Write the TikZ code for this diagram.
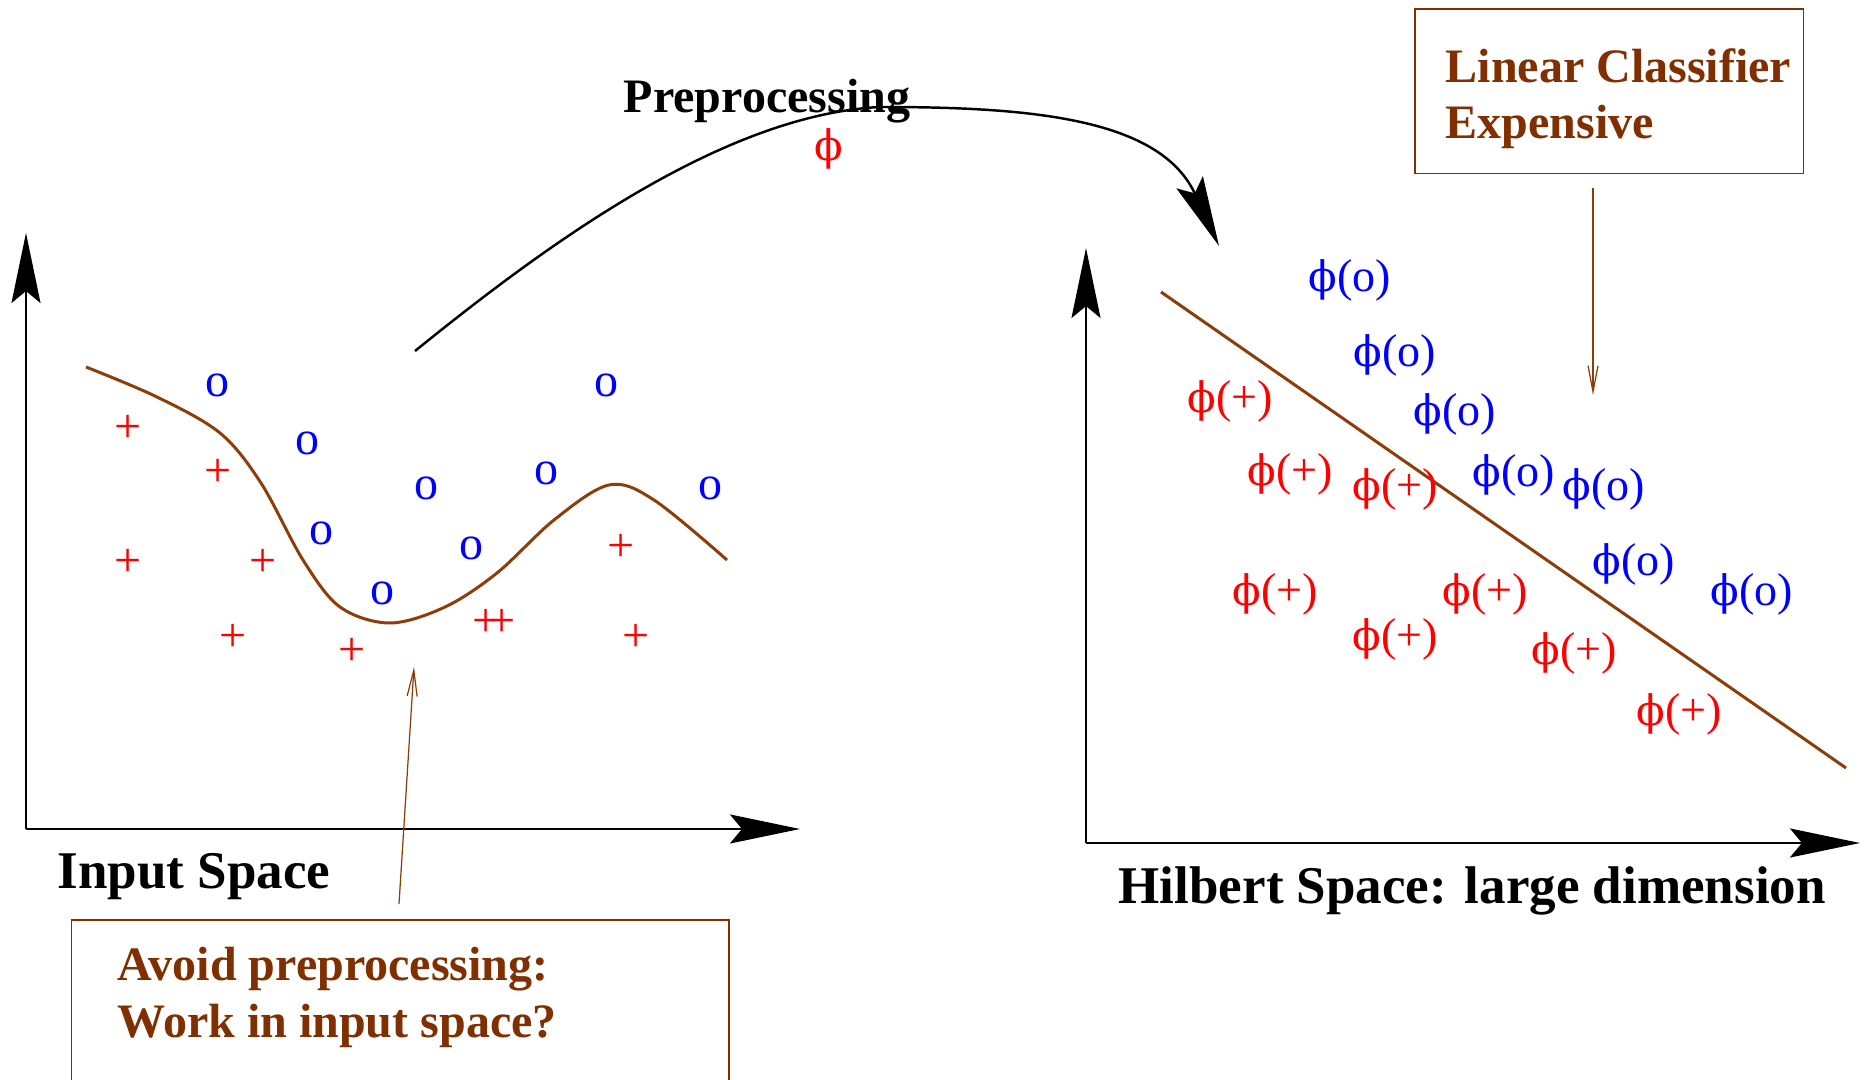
\documentclass[tikz,border=0pt]{standalone}
\usepackage{fontspec}
\setmainfont{Liberation Serif}
\newfontfamily\myphifont{DejaVu Serif}
\usetikzlibrary{arrows.meta}
\definecolor{brtext}{RGB}{128,48,0}
\definecolor{brline}{RGB}{140,62,8}
\newcommand\myfontBig{\fontsize{0.53cm}{0.6cm}\selectfont}
\newcommand\myfontMid{\fontsize{0.48cm}{0.56cm}\selectfont}
\newcommand\myfontSym{\fontsize{0.46cm}{0.52cm}\selectfont}
\newcommand\myphi{{\myphifont\fontsize{0.42cm}{0.5cm}\selectfont ϕ}}
\begin{document}
\begin{tikzpicture}[x=0.01cm,y=-0.01cm,
  axis/.style={line width=0.65pt,-{Stealth[length=0.7cm,width=0.29cm,inset=0.12cm]}},
  sep/.style={draw=brline,line width=0.85pt},
  thinarrow/.style={draw=brline,line width=0.35pt,-{Straight Barb[length=0.26cm,width=0.1cm]}},
  notebox/.style={draw=brtext,line width=0.45pt,inner sep=0pt,anchor=north west},
  lbl/.style={inner sep=0pt,anchor=base west},
  pt/.style={inner sep=0pt,anchor=center,font=\myfontMid},
  plus/.style={pt,text=red},
  circ/.style={pt,text=blue},
  phip/.style={inner sep=0pt,anchor=center,font=\myfontSym,text=red},
  phio/.style={inner sep=0pt,anchor=center,font=\myfontSym,text=blue}]
\useasboundingbox (0,0) rectangle (1864,1080);
\clip (0,0) rectangle (1864,1080);
\fill[white] (0,0) rectangle (1864,1080);

% ---------- left: input space ----------
\coordinate (lo) at (26,829);
\coordinate (ly) at (26,233);
\coordinate (lx) at (800,829);
\draw[axis] (lo) -- (ly);
\draw[axis] (lo) -- (lx);
\node[lbl,font=\myfontBig\bfseries] (inputlbl) at (57,888) {Input Space};

\draw[sep] plot[smooth,tension=0.55] coordinates {(86,367) (157,397) (220,433) (261,483) (303,560) (340,607) (390,623) (445,607) (497,573) (554,520) (609,485) (654,500) (727,560)};

\node[circ] (o1) at (218,385) {o};
\node[circ] (o2) at (308,443) {o};
\node[circ] (o3) at (426,488) {o};
\node[circ] (o4) at (546,473) {o};
\node[circ] (o5) at (606,385) {o};
\node[circ] (o6) at (710,488) {o};
\node[circ] (o7) at (322,533) {o};
\node[circ] (o8) at (471,548) {o};
\node[circ] (o9) at (382,593) {o};

\node[plus] (p1) at (128,429) {+};
\node[plus] (p2) at (218,473) {+};
\node[plus] (p3) at (128,563) {+};
\node[plus] (p4) at (263,563) {+};
\node[plus] (p5) at (621,548) {+};
\node[plus] (p6) at (233,638) {+};
\node[plus] (p7) at (352,652) {+};
\node[plus] (p8) at (486,623) {+};
\node[plus] (p9) at (502,623) {+};
\node[plus] (p10) at (636,638) {+};

% ---------- preprocessing arrow ----------
\coordinate (preA) at (415,351);
\coordinate (preM) at (880,107);
\coordinate (preB) at (1219,246);
\draw[line width=0.7pt,-{Stealth[length=0.7cm,width=0.29cm,inset=0.12cm]}]
  (preA) .. controls (540,250) and (720,115) .. (preM)
         .. controls (1030,107) and (1160,118) .. (preB);
\node[lbl,font=\myfontMid\bfseries] (prelbl) at (623,113) {Preprocessing};
\node[phip] (phimap) at (829,149) {\myphi};

% ---------- right: Hilbert space ----------
\coordinate (ro) at (1086,843);
\coordinate (ry) at (1086,248);
\coordinate (rx) at (1860,843);
\draw[axis] (ro) -- (ry);
\draw[axis] (ro) -- (rx);
\node[lbl,font=\myfontBig\bfseries] (hilblbl) at (1118,903) {Hilbert Space: large dimension};

\coordinate (sepA) at (1161,292);
\coordinate (sepB) at (1846,768);
\draw[sep] (sepA) -- (sepB);

\node[phio] (q1) at (1350,280) {\myphi(o)};
\node[phio] (q2) at (1395,355) {\myphi(o)};
\node[phio] (q3) at (1455,414) {\myphi(o)};
\node[phio] (q4) at (1514,475) {\myphi(o)};
\node[phio] (q5) at (1604,489) {\myphi(o)};
\node[phio] (q6) at (1634,564) {\myphi(o)};
\node[phio] (q7) at (1752,594) {\myphi(o)};

\node[phip] (r1) at (1230,401) {\myphi(+)};
\node[phip] (r2) at (1290,474) {\myphi(+)};
\node[phip] (r3) at (1395,489) {\myphi(+)};
\node[phip] (r4) at (1275,594) {\myphi(+)};
\node[phip] (r5) at (1485,594) {\myphi(+)};
\node[phip] (r6) at (1395,639) {\myphi(+)};
\node[phip] (r7) at (1574,653) {\myphi(+)};
\node[phip] (r8) at (1679,714) {\myphi(+)};

% ---------- note boxes ----------
\node[notebox,minimum width=3.884cm,minimum height=1.644cm] (lcbox) at (1414,8.3) {};
\node[lbl,font=\myfontMid\bfseries,text=brtext] (lc1) at (1445,83) {Linear Classifier};
\node[lbl,font=\myfontMid\bfseries,text=brtext] (lc2) at (1445,139) {Expensive};
\coordinate (lcTail) at (1593,188);
\coordinate (lcHead) at (1593,395);
\draw[thinarrow] (lcTail) -- (lcHead);

\node[notebox,minimum width=6.573cm,minimum height=2.2cm] (avbox) at (70.7,919) {};
\node[lbl,font=\myfontMid\bfseries,text=brtext] (av1) at (117,980) {Avoid preprocessing:};
\node[lbl,font=\myfontMid\bfseries,text=brtext] (av2) at (117,1037) {Work in input space?};
\coordinate (avTail) at (399,904);
\coordinate (avHead) at (414,667);
\draw[thinarrow] (avTail) -- (avHead);
\end{tikzpicture}
\end{document}
